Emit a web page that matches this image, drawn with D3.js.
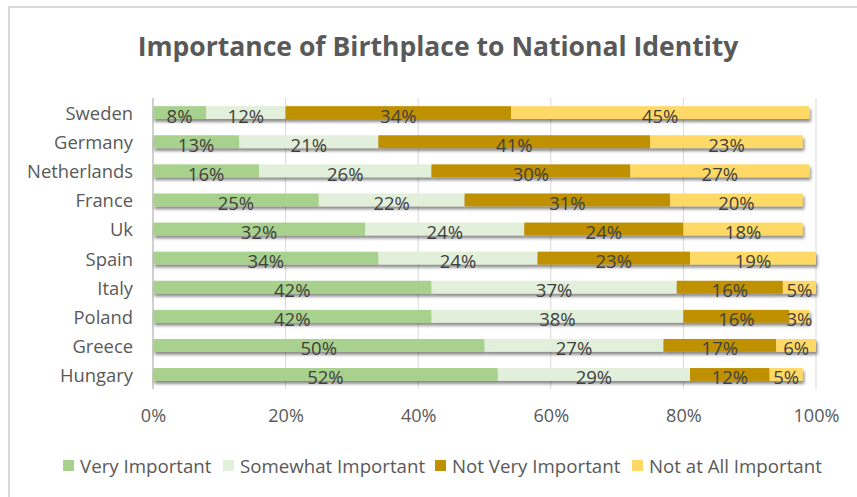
<!DOCTYPE html>
<html><head><meta charset="utf-8">
<script src="https://d3js.org/d3.v7.min.js"></script>
<style>body{margin:0;background:#fff}svg{display:block}text{font-family:"Open Sans",sans-serif}</style>
</head><body><svg id="c" width="857" height="497"></svg>
<script>
const countries = ["Sweden","Germany","Netherlands","France","Uk","Spain","Italy","Poland","Greece","Hungary"];
const seriesNames = ["Very Important","Somewhat Important","Not Very Important","Not at All Important"];
const veryImportant =     [8,13,16,25,32,34,42,42,50,52];
const somewhatImportant = [12,21,26,22,24,24,37,38,27,29];
const notVeryImportant =  [34,41,30,31,24,23,16,16,17,12];
const notAtAllImportant = [45,23,27,20,18,19,5,3,6,5];
const xTicks = [0,20,40,60,80,100];
const colors = ["#a9d18e","#e2efda","#bf9000","#ffd966"];

const svg = d3.select("#c");
const FONT = '"Open Sans",sans-serif';
// find font size so that sample text has target width
function fitSize(sample, target, weight){
  const t = svg.append("text").attr("font-family",FONT).attr("font-weight",weight||"normal").attr("font-size",100).text(sample);
  const w = t.node().getComputedTextLength(); t.remove();
  return 100*target/w;
}
const titleSize = fitSize("Importance of Birthplace to National Identity", 601, "bold");
const catSize = fitSize("Netherlands", 106);
const legSize = fitSize("Not at All Important", 173);
const lblSize = fitSize("45%", 36.5);
const tickSize = fitSize("100%", 46);

const defs = svg.append("defs");
const f = defs.append("filter").attr("id","sh").attr("x","-5%").attr("y","-50%").attr("width","110%").attr("height","250%");
f.append("feDropShadow").attr("dx",1.5).attr("dy",3).attr("stdDeviation",1.6).attr("flood-color","#000").attr("flood-opacity",0.45);

svg.append("path").attr("d","M9,497V7H857").attr("fill","none").attr("stroke","#d9d9d9").attr("stroke-width",2);

svg.append("text").attr("x",438).attr("y",46).attr("text-anchor","middle").attr("dominant-baseline","central")
  .attr("font-size",titleSize).attr("font-weight","bold").attr("fill","#595959")
  .text("Importance of Birthplace to National Identity");

const x = d3.scaleLinear().domain([0,100]).range([153,816]);
const y = d3.scaleBand().domain(countries).range([98,389]).paddingInner(0.56).paddingOuter(0.28);

svg.append("g").selectAll("line").data(xTicks.slice(1)).join("line")
  .attr("x1",d=>x(d)).attr("x2",d=>x(d)).attr("y1",98).attr("y2",389)
  .attr("stroke","#d9d9d9").attr("stroke-width",1);
svg.append("line").attr("x1",x(0)).attr("x2",x(0)).attr("y1",98).attr("y2",389)
  .attr("stroke","#d0d0d0").attr("stroke-width",2);

const rows = countries.map((c,i)=>({country:c, Very:veryImportant[i], Some:somewhatImportant[i], NotVery:notVeryImportant[i], NotAll:notAtAllImportant[i]}));
const keys = ["Very","Some","NotVery","NotAll"];
const stacked = d3.stack().keys(keys)(rows);

const gBars = svg.append("g").attr("filter","url(#sh)");
stacked.forEach((layer,k)=>{
  gBars.append("g").attr("fill",colors[k]).selectAll("rect").data(layer).join("rect")
    .attr("x",d=>x(d[0])).attr("width",d=>x(d[1])-x(d[0]))
    .attr("y",d=>y(d.data.country)).attr("height",y.bandwidth());
});
const gLab = svg.append("g");
stacked.forEach((layer,k)=>{
  gLab.selectAll(null).data(layer).join("text")
    .attr("x",d=>(x(d[0])+x(d[1]))/2).attr("y",d=>y(d.data.country)+y.bandwidth()/2+2.5)
    .attr("text-anchor","middle").attr("dominant-baseline","central")
    .attr("font-size",lblSize).attr("fill","#404040")
    .text(d=>(d[1]-d[0])+"%");
});

const yAxis = d3.axisLeft(y).tickSize(0).tickPadding(20);
const ga = svg.append("g").attr("transform",`translate(${x(0)},0)`).call(yAxis);
ga.select(".domain").remove();
ga.selectAll("text").attr("font-size",catSize).attr("fill","#595959").attr("font-family",FONT).attr("dy",null).attr("dominant-baseline","central");

const xAxis = d3.axisBottom(x).tickValues(xTicks).tickSize(0).tickPadding(0).tickFormat(d=>d+"%");
const gx = svg.append("g").attr("transform","translate(0,415)").call(xAxis);
gx.select(".domain").remove();
gx.selectAll("text").attr("font-size",tickSize).attr("fill","#595959").attr("font-family",FONT).attr("y",0).attr("dy",null).attr("dominant-baseline","central");

const legX = [63,223,435,632];
const lg = svg.append("g");
seriesNames.forEach((n,i)=>{
  lg.append("rect").attr("x",legX[i]).attr("y",460).attr("width",11).attr("height",11).attr("fill",colors[i]);
  lg.append("text").attr("x",legX[i]+17).attr("y",465.5).attr("dominant-baseline","central")
    .attr("font-size",legSize).attr("fill","#595959").text(n);
});
</script></body></html>
